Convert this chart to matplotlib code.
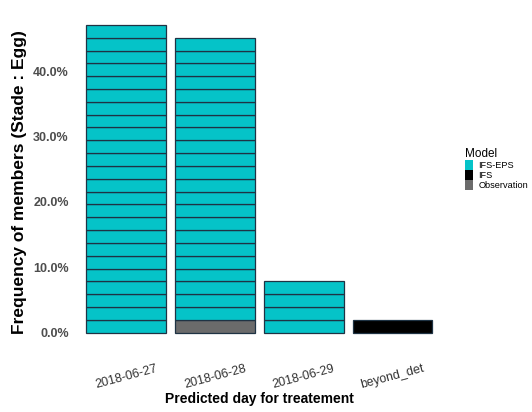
import numpy as np
import matplotlib.pyplot as plt

plt.rcParams['font.family'] = ['Liberation Sans', 'DejaVu Sans']

# member counts per predicted day (each member = 1/51 of the ensemble)
days = ['2018-06-27', '2018-06-28', '2018-06-29', 'beyond_det']
eps_members = [24, 22, 4, 0]
ifs_members = [0, 0, 0, 1]
obs_members = [0, 1, 0, 0]
n_members = 51

models = ['IFS-EPS', 'IFS', 'Observation']
colors = {'IFS-EPS': '#05C3C8', 'IFS': '#000000', 'Observation': '#6B6B6B'}

fig = plt.figure(figsize=(5.32, 4.12), dpi=100)
ax = fig.add_axes([0.137, 0.155, 0.701, 0.822])

x = np.arange(1, len(days) + 1)
unit = 1.0 / n_members
# stack order from bottom: Observation, IFS, IFS-EPS
for i in range(len(days)):
    bottom = 0.0
    for model, counts in [('Observation', obs_members), ('IFS', ifs_members),
                          ('IFS-EPS', eps_members)]:
        for k in range(counts[i]):
            ax.bar(x[i], unit, width=0.9, bottom=bottom, color=colors[model],
                   edgecolor='#1f3344', linewidth=0.9)
            bottom += unit

top = max(e + f + o for e, f, o in zip(eps_members, ifs_members, obs_members)) * unit
ax.set_xlim(0.4, len(days) + 0.6)
ax.set_ylim(-top * 0.05, top * 1.05)
ax.set_yticks([0, 0.1, 0.2, 0.3, 0.4])
ax.set_yticklabels(['0.0%', '10.0%', '20.0%', '30.0%', '40.0%'])
ax.set_xticks(x)
ax.set_xticklabels(days, rotation=15)
for s in ax.spines.values():
    s.set_visible(False)
ax.tick_params(length=0, labelsize=9, labelcolor='#4D4D4D', pad=3)
for lab in ax.get_yticklabels():
    lab.set_fontweight('bold')
for lab in ax.get_xticklabels():
    lab.set_y(-0.03)
    lab.set_color('#333333')

ax.set_xlabel('Predicted day for treatement', fontsize=10, fontweight='bold')
ax.set_ylabel('Frequency of members (Stade : Egg)', fontsize=12.5, fontweight='bold')
ax.xaxis.set_label_coords(0.5, -0.13)
ax.yaxis.set_label_coords(-0.123, 0.49)

handles = [plt.Rectangle((0, 0), 1, 1, facecolor=colors[m]) for m in models]
leg = fig.legend(handles, models, title='Model', loc='center left',
                 bbox_to_anchor=(0.868, 0.59), frameon=False, fontsize=6.6,
                 title_fontsize=8.5, handlelength=0.8, handleheight=1.3,
                 handletextpad=0.6, labelspacing=0.0, borderaxespad=0)
leg._legend_box.align = 'left'

fig.savefig('out.png', dpi=100)
